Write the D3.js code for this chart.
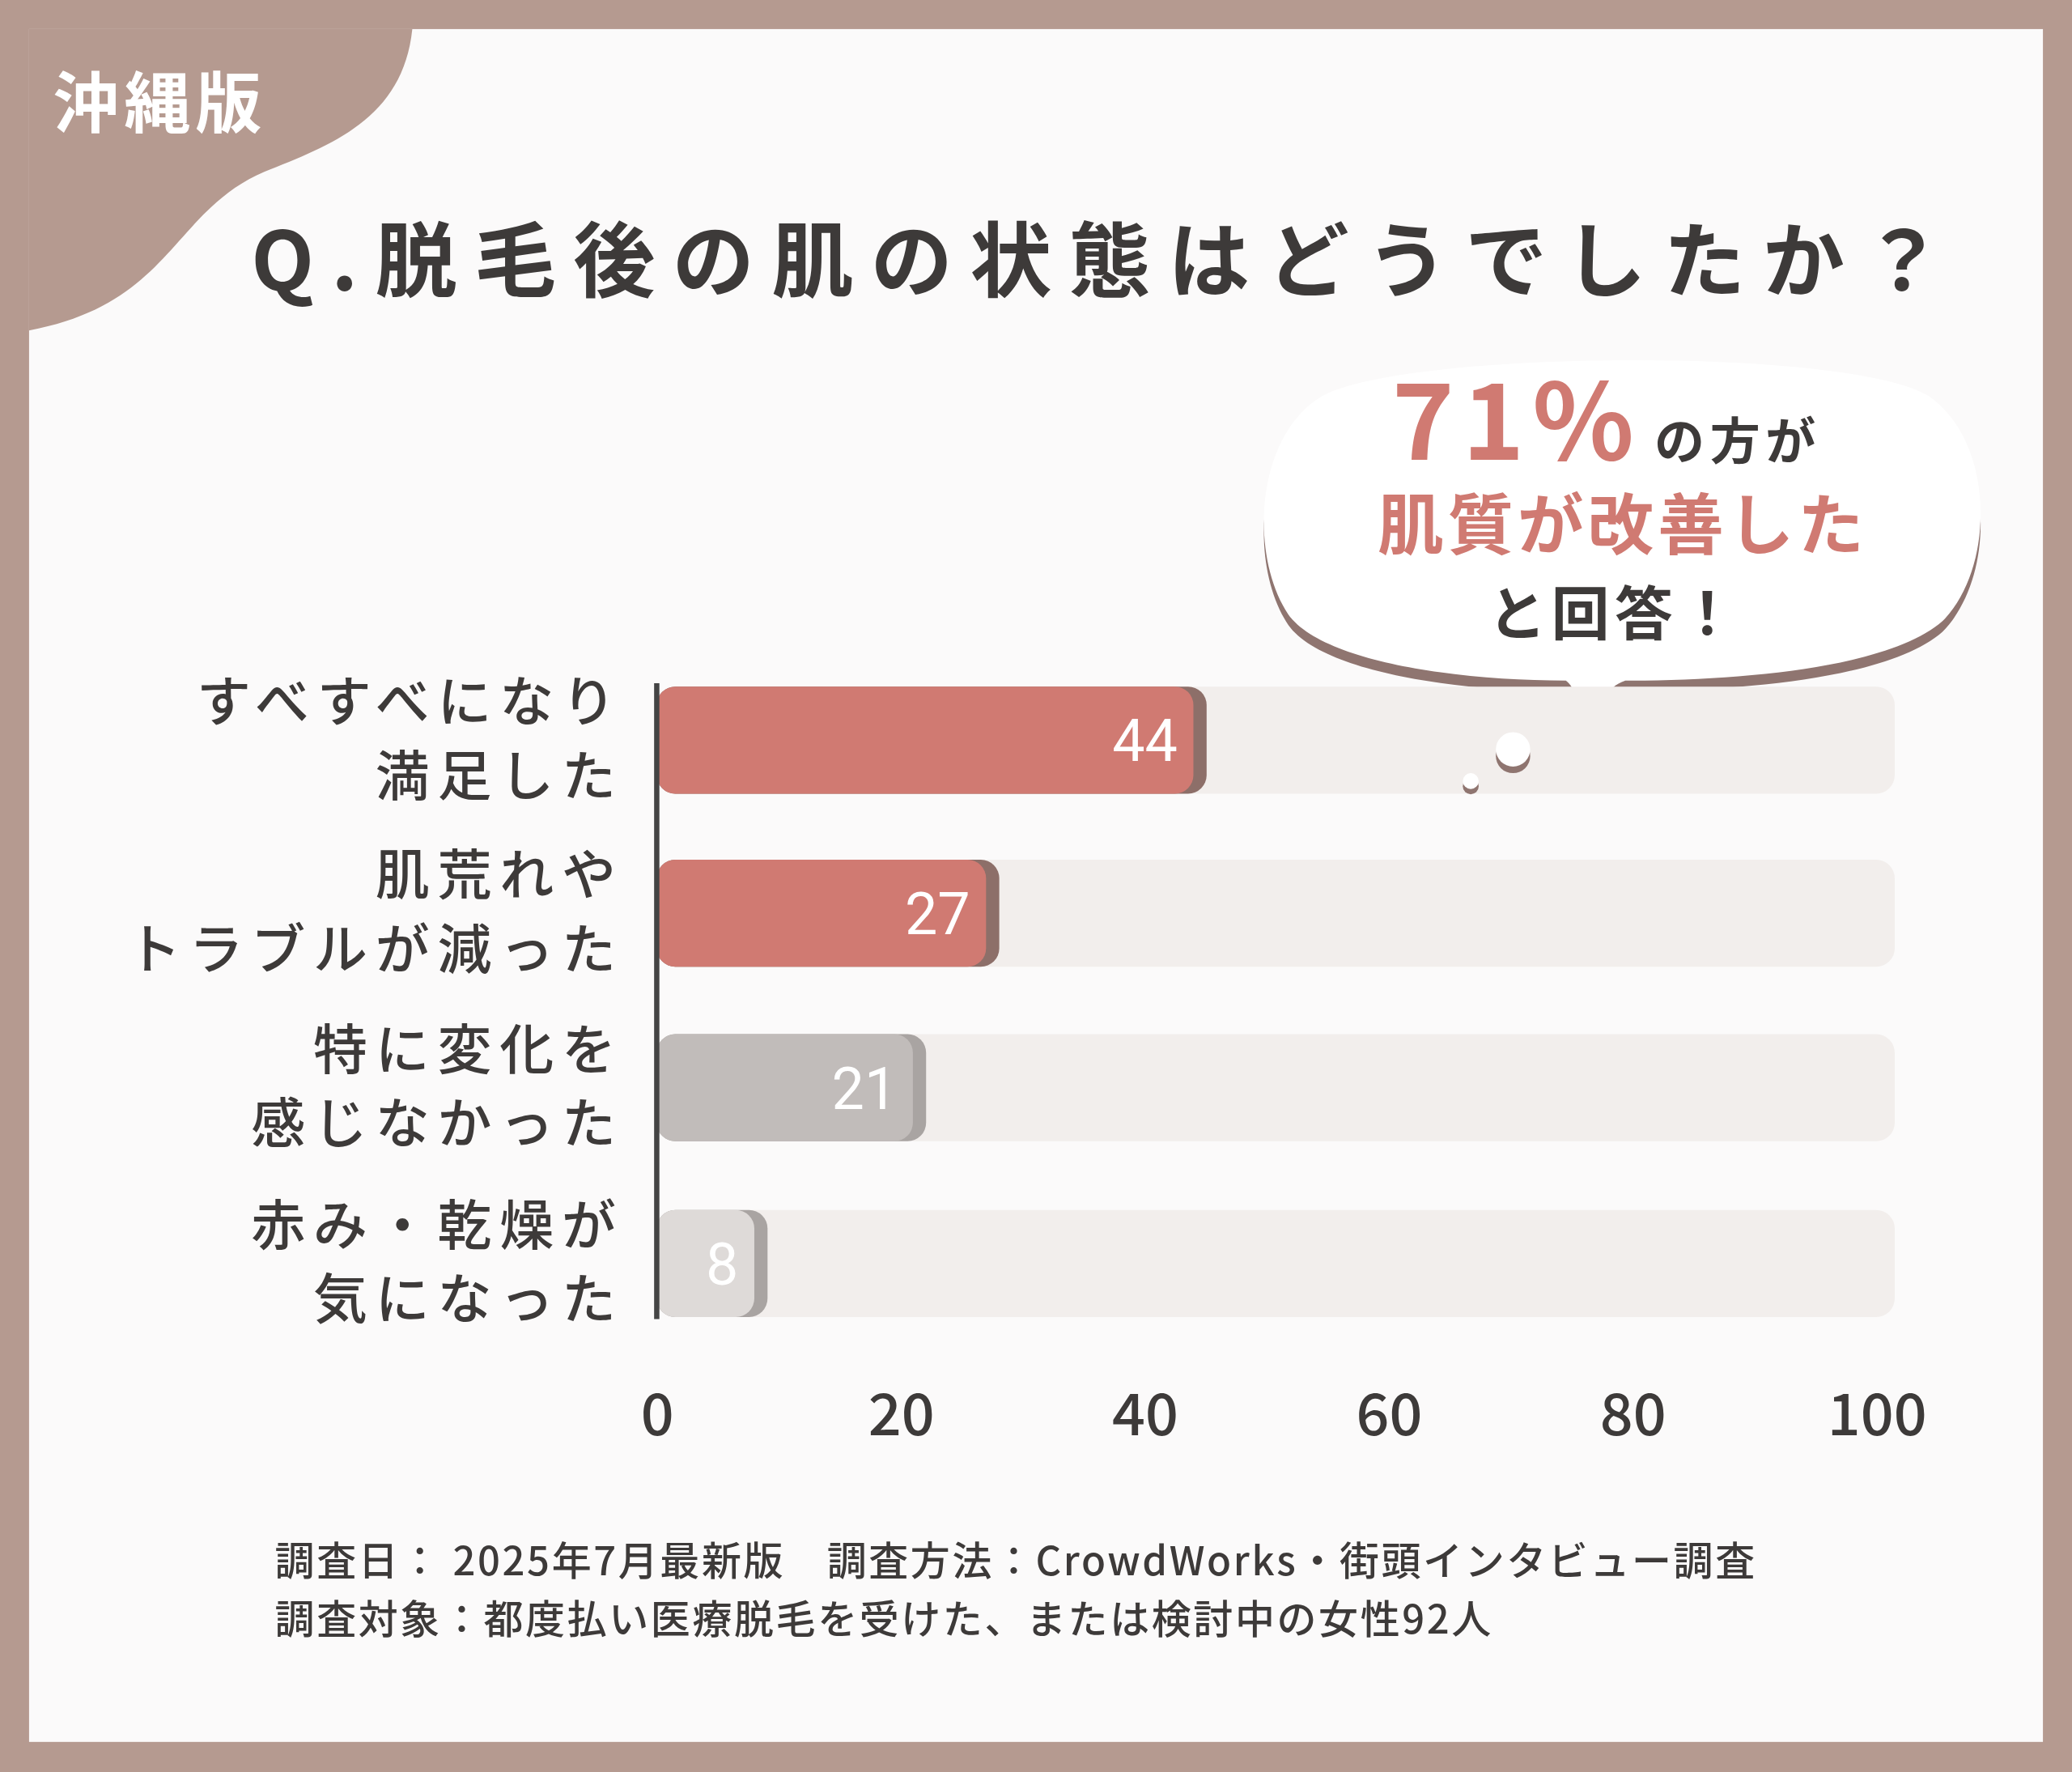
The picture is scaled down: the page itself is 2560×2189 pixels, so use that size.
<!DOCTYPE html>
<html><head><meta charset="utf-8">
<script src="https://cdn.jsdelivr.net/npm/d3@7"></script>
<style>body{margin:0;background:#b59a90}</style>
</head><body><div id="chart"></div>
<script>
const categories = [["すべすべになり", "満足した"], ["肌荒れや", "トラブルが減った"], ["特に変化を", "感じなかった"], ["赤み・乾燥が", "気になった"]];
const values = [44, 27, 21, 8];
const barColors = ["#d07a72", "#d07a72", "#c1bcba", "#dedad8"];
const ticks = [0, 20, 40, 60, 80, 100];

const W = 2560, H = 2189, s = W / 1568;
const font = "'Noto Sans CJK JP', sans-serif";

const svg = d3.select("#chart").append("svg").attr("width", W).attr("height", H);
const g = svg.append("g").attr("transform", `scale(${s})`);

// frame
g.append("rect").attr("width", 1568).attr("height", 1341).attr("fill", "#b59a90");
g.append("rect").attr("x", 22).attr("y", 22).attr("width", 1524).attr("height", 1296).attr("fill", "#fbfafa");
g.append("path").attr("fill", "#b59a90")
  .attr("d", "M22,22 L312,22 C305,90 250,110 200,130 C130,160 130,230 22,250 Z");
g.append("text").attr("x", 40).attr("y", 96).attr("font-family", font).attr("font-weight", 700)
  .attr("font-size", 50).attr("letter-spacing", 4).attr("fill", "#fff").text("沖縄版");

// title
g.append("text").attr("x", 190).attr("y", 220).attr("font-family", font).attr("font-weight", 700)
  .attr("font-size", 62).attr("letter-spacing", 13).attr("fill", "#3d3a39").text("Q.脱毛後の肌の状態はどうでしたか？");

// speech bubble
const bub = "M1000,300 C1060,265 1400,262 1460,300 C1510,335 1510,430 1470,470 C1430,505 1320,515 1230,515 C1215,520 1210,535 1205,540 C1195,535 1192,520 1185,515 C1100,515 1000,500 975,465 C945,420 950,330 1000,300 Z";
g.append("path").attr("d", bub).attr("fill", "#8f7570").attr("transform", "translate(0,8)");
g.append("path").attr("d", bub).attr("fill", "#fff");
g.append("text").attr("x", 1148).attr("y", 348).attr("text-anchor", "middle").attr("font-family", font).attr("font-weight", 700)
  .attr("font-size", 80).attr("letter-spacing", 6).attr("fill", "#d07a72").text("71%");
g.append("text").attr("x", 1252).attr("y", 348).attr("font-family", font).attr("font-weight", 700)
  .attr("font-size", 38).attr("letter-spacing", 4).attr("fill", "#3d3a39").text("の方が");
g.append("text").attr("x", 1228).attr("y", 415).attr("text-anchor", "middle").attr("font-family", font).attr("font-weight", 700)
  .attr("font-size", 50).attr("fill", "#d07a72").attr("letter-spacing", 3).text("肌質が改善した");
g.append("text").attr("x", 1222).attr("y", 480).attr("text-anchor", "middle").attr("font-family", font).attr("font-weight", 700)
  .attr("font-size", 44).attr("letter-spacing", 4).attr("fill", "#3d3a39").text("と回答！");

// chart
const x = d3.scaleLinear().domain([0, 100]).range([497, 1420]);
const bh = 81;
const yc = i => [560, 691, 823, 956][i];

g.selectAll(".track").data(values).join("rect")
  .attr("x", x(0)).attr("y", (d, i) => yc(i) - bh / 2).attr("width", x(101.5) - x(0)).attr("height", bh)
  .attr("rx", 14).attr("fill", "#f2eeec");
g.selectAll(".shadow").data(values).join("rect")
  .attr("x", x(0)).attr("y", (d, i) => yc(i) - bh / 2).attr("width", d => x(d) - x(0) + 10).attr("height", bh)
  .attr("rx", 14).attr("fill", (d, i) => i < 2 ? "#8d6f69" : "#a9a4a2");
g.selectAll(".bar").data(values).join("rect")
  .attr("x", x(0)).attr("y", (d, i) => yc(i) - bh / 2).attr("width", d => x(d) - x(0)).attr("height", bh)
  .attr("rx", 14).attr("fill", (d, i) => barColors[i]);
g.selectAll(".val").data(values).join("text")
  .attr("x", d => x(d) - 12).attr("y", (d, i) => yc(i) + 16).attr("text-anchor", "end")
  .attr("font-family", "Roboto, sans-serif").attr("font-size", 44).attr("fill", "#fff").text(d => d);

// thought bubbles over the first track
g.append("circle").attr("cx", 1145).attr("cy", 572).attr("r", 13).attr("fill", "#8f7570");
g.append("circle").attr("cx", 1145).attr("cy", 567).attr("r", 13).attr("fill", "#fff");
g.append("circle").attr("cx", 1113).attr("cy", 595).attr("r", 6).attr("fill", "#8f7570");
g.append("circle").attr("cx", 1113).attr("cy", 591).attr("r", 6).attr("fill", "#fff");

g.append("line").attr("x1", 497).attr("x2", 497).attr("y1", 517).attr("y2", 998)
  .attr("stroke", "#444").attr("stroke-width", 4);

categories.forEach((c, i) => {
  c.forEach((line, j) => {
    g.append("text").attr("x", 472).attr("y", yc(i) - 14 + j * 56).attr("text-anchor", "end")
      .attr("font-family", font).attr("font-weight", 500).attr("font-size", 41).attr("letter-spacing", 6)
      .attr("fill", "#3d3a39").text(line);
  });
});

const axis = g.append("g").attr("transform", "translate(0,1055)")
  .call(d3.axisBottom(x).tickValues(ticks).tickSize(0).tickPadding(0));
axis.select(".domain").remove();
axis.selectAll("text").attr("font-family", font).attr("font-weight", 500).attr("font-size", 44).attr("fill", "#3d3a39");

// footnote
g.append("text").attr("x", 208).attr("y", 1192).attr("font-family", font).attr("font-weight", 500)
  .attr("font-size", 30).attr("letter-spacing", 1.6).attr("fill", "#3d3a39").text("調査日： 2025年7月最新版　調査方法：CrowdWorks・街頭インタビュー調査");
g.append("text").attr("x", 208).attr("y", 1236).attr("font-family", font).attr("font-weight", 500)
  .attr("font-size", 30).attr("letter-spacing", 1.6).attr("fill", "#3d3a39").text("調査対象：都度払い医療脱毛を受けた、または検討中の女性92人");
</script></body></html>
